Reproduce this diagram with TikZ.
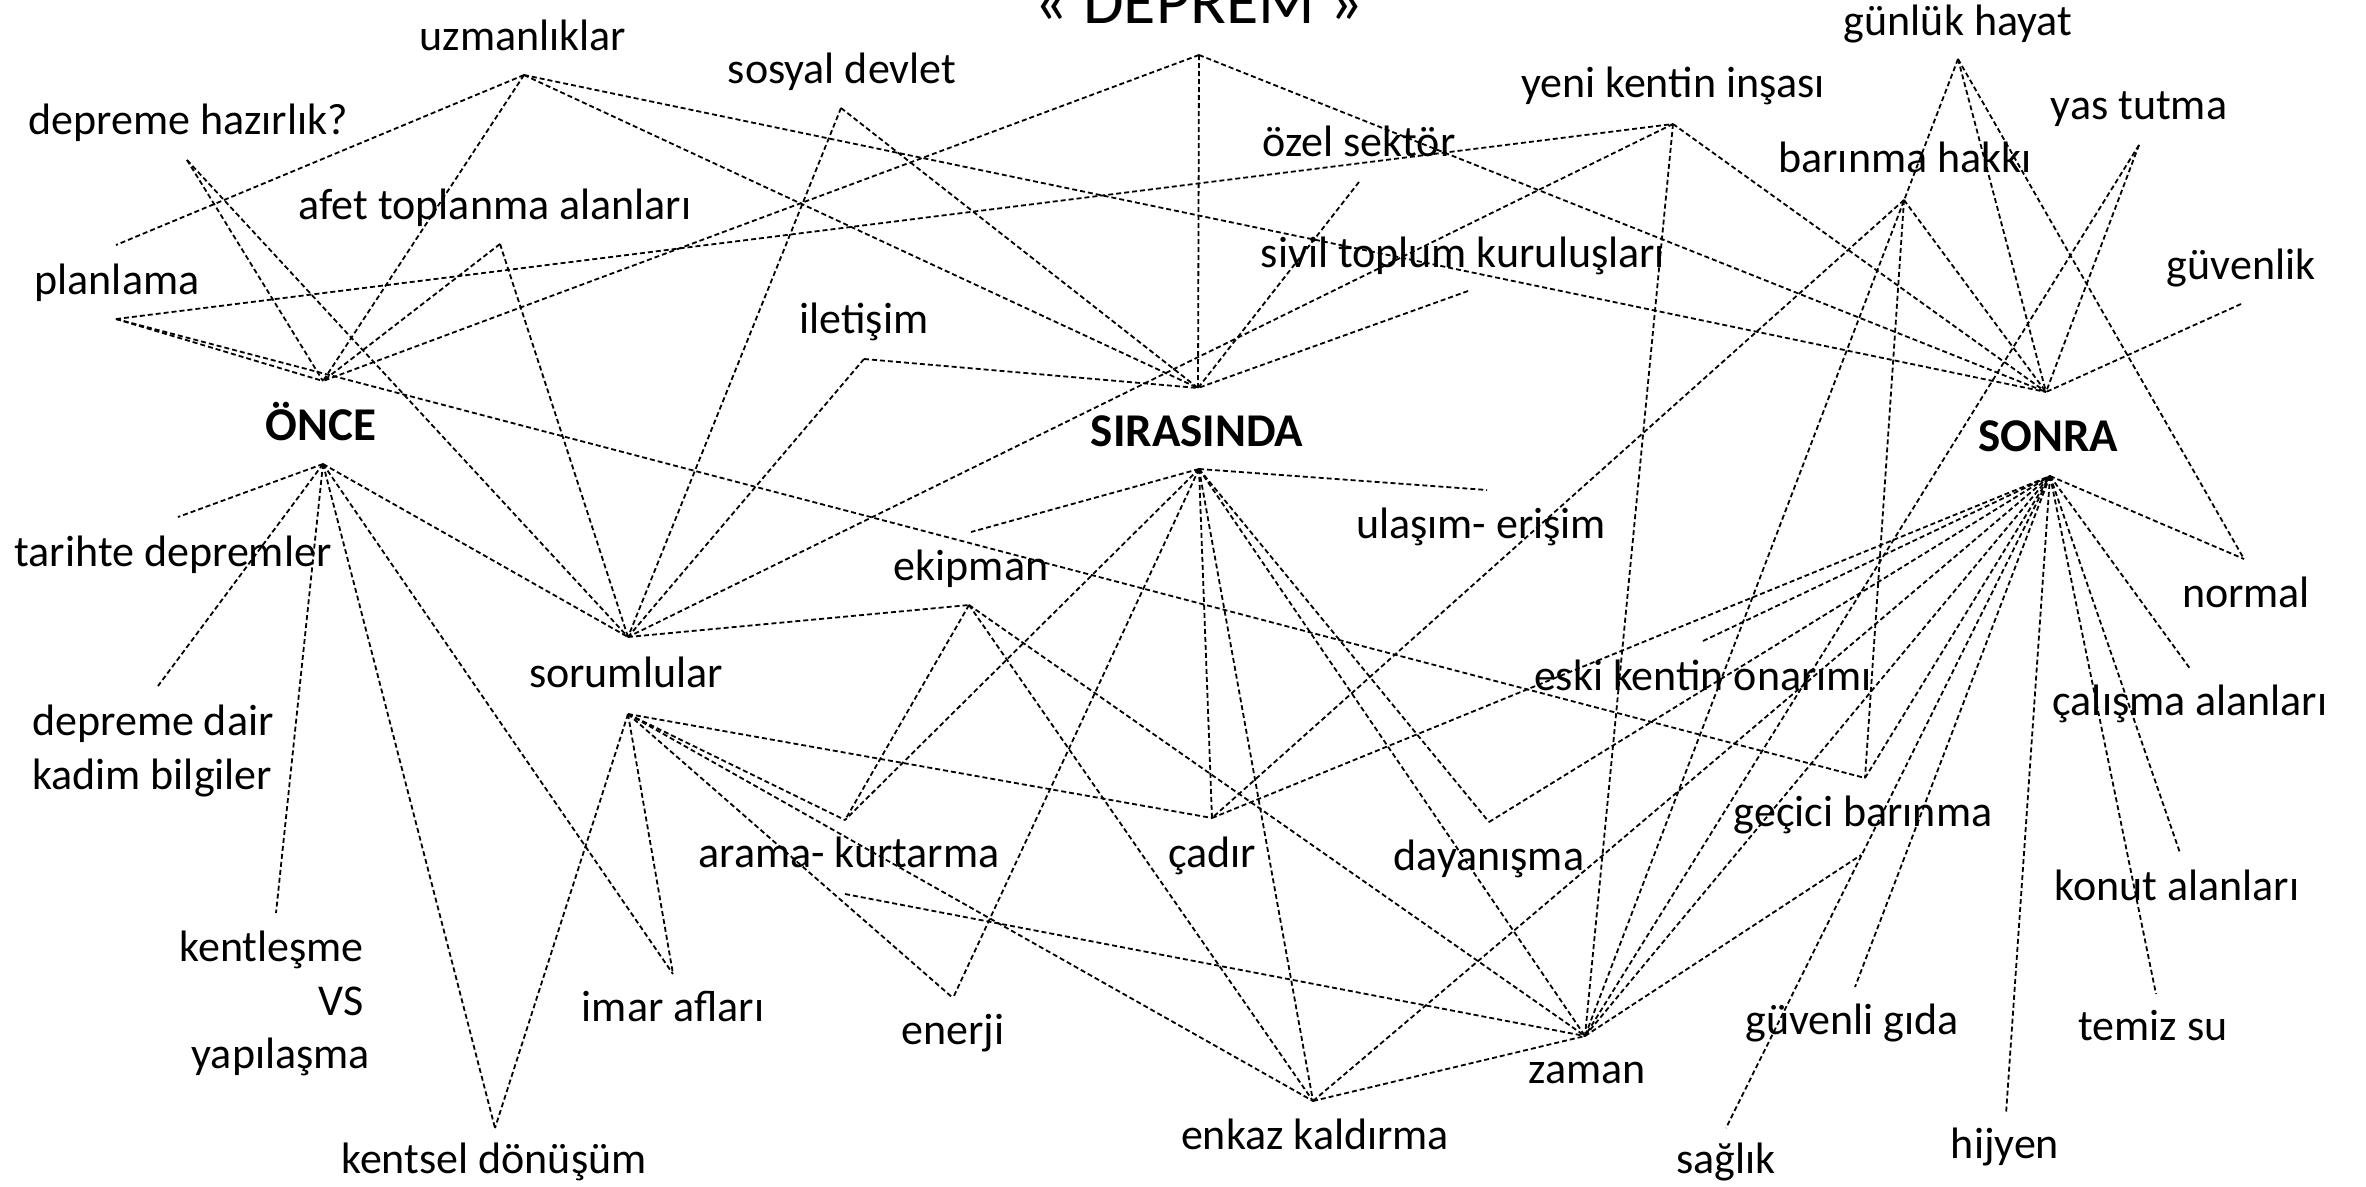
\documentclass[tikz,border=0pt]{standalone}
\usepackage{fontspec}
\setmainfont{Carlito}
\begin{document}
\begin{tikzpicture}[x=1pt,y=-1pt,
  lbl/.style={font=\fontsize{44}{55}\selectfont, inner sep=0pt, anchor=base},
  hdr/.style={font=\fontsize{47}{55}\selectfont\bfseries, inner sep=0pt, anchor=base},
  ttl/.style={font=\fontsize{66}{70}\selectfont, inner sep=0pt, anchor=base},
  link/.style={dash pattern=on 5pt off 3pt, line width=1.8pt, black}]
\useasboundingbox (0,0) rectangle (2366,1186);
\clip (0,0) rectangle (2366,1186);
\fill[white] (0,0) rectangle (2366,1186);

% ---- texts ----
\node[ttl] (title) at (1199,23) {« DEPREM »};
\node[lbl] (tuzm) at (523,50) {uzmanlıklar};
\node[lbl] (thaz) at (188,134) {depreme hazırlık?};
\node[lbl] (tsos) at (842,83) {sosyal devlet};
\node[lbl] (tafet) at (495,219) {afet toplanma alanları};
\node[lbl] (tplan) at (117,294) {planlama};
\node[hdr] (tonce) at (321,440) {ÖNCE};
\node[lbl] (ttarih) at (173,566) {tarihte depremler};
\node[lbl, anchor=base west] (tkadA) at (32,735) {depreme dair};
\node[lbl, anchor=base west] (tkadB) at (32,789) {kadim bilgiler};
\node[lbl, anchor=base east] (tkenA) at (364,961) {kentleşme};
\node[lbl, anchor=base east] (tkenB) at (364,1015) {VS};
\node[lbl, anchor=base east] (tkenC) at (370,1068) {yapılaşma};
\node[lbl] (tkents) at (494,1173) {kentsel dönüşüm};
\node[lbl] (timar) at (673,1021) {imar afları};
\node[lbl] (tsor) at (626,687) {sorumlular};
\node[lbl] (tilet) at (864,333) {iletişim};
\node[hdr] (tsira) at (1197,446) {SIRASINDA};
\node[lbl] (tozel) at (1359,156) {özel sektör};
\node[lbl] (tsivil) at (1463,267) {sivil toplum kuruluşları};
\node[lbl] (tyeni) at (1673,97) {yeni kentin inşası};
\node[lbl] (tekip) at (971,580) {ekipman};
\node[lbl] (tulas) at (1481,538) {ulaşım- erişim};
\node[lbl] (tarama) at (849,867) {arama- kurtarma};
\node[lbl] (tenerji) at (953,1044) {enerji};
\node[lbl] (tcadir) at (1212,867) {çadır};
\node[lbl] (tdayan) at (1489,870) {dayanışma};
\node[lbl] (tenkaz) at (1315,1149) {enkaz kaldırma};
\node[lbl] (tzaman) at (1587,1083) {zaman};
\node[lbl] (teski) at (1703,690) {eski kentin onarımı};
\node[lbl] (tgec) at (1863,826) {geçici barınma};
\node[lbl] (tguvenli) at (1852,1034) {güvenli gıda};
\node[lbl] (tsaglik) at (1726,1173) {sağlık};
\node[lbl] (thijyen) at (2005,1158) {hijyen};
\node[lbl] (ttemiz) at (2153,1040) {temiz su};
\node[lbl] (tkonut) at (2177,900) {konut alanları};
\node[lbl] (tcalis) at (2190,715) {çalışma alanları};
\node[lbl] (tnormal) at (2246,607) {normal};
\node[hdr] (tsonra) at (2048,451) {SONRA};
\node[lbl] (tgunluk) at (1958,35) {günlük hayat};
\node[lbl] (tyas) at (2139,119) {yas tutma};
\node[lbl] (tbarh) at (1905,172) {barınma hakkı};
\node[lbl] (tguv) at (2241,279) {güvenlik};

% ---- anchor points ----
\coordinate (DEP) at (1199,55);
\coordinate (UZM) at (524,75);
\coordinate (SOS) at (841,108);
\coordinate (YENI) at (1673,124);
\coordinate (OZEL) at (1359,182);
\coordinate (SIVIL) at (1468,291);
\coordinate (ILET) at (864,359);
\coordinate (GUNLUK) at (1958,59);
\coordinate (YAS) at (2139,145);
\coordinate (BARH) at (1904,200);
\coordinate (GUV) at (2241,304);
\coordinate (HAZ) at (187,160);
\coordinate (PLANu) at (116,245);
\coordinate (PLAN) at (116,319);
\coordinate (AFET) at (500,244);
\coordinate (ONCEt) at (323,381);
\coordinate (ONCEb) at (323,464);
\coordinate (SIRAt) at (1198,388);
\coordinate (SIRAb) at (1199,469);
\coordinate (SONRAt) at (2046,392);
\coordinate (SONRAb) at (2050,476);
\coordinate (TARIH) at (178,517);
\coordinate (KADIM) at (158,686);
\coordinate (KENTL) at (276,913);
\coordinate (KENTS) at (495,1128);
\coordinate (IMAR) at (673,974);
\coordinate (SORt) at (628,637);
\coordinate (SORb) at (628,714);
\coordinate (ULAS) at (1487,490);
\coordinate (EKIPu) at (971,532);
\coordinate (EKIPl) at (969,605);
\coordinate (ARAMA) at (845,820);
\coordinate (ARAMAb) at (845,894);
\coordinate (ENERJI) at (953,998);
\coordinate (CADIR) at (1212,818);
\coordinate (DAYAN) at (1489,822);
\coordinate (ENKAZ) at (1313,1101);
\coordinate (ZAMAN) at (1585,1036);
\coordinate (ESKI) at (1703,641);
\coordinate (GECu) at (1865,778);
\coordinate (GECl) at (1861,855);
\coordinate (GUVENLI) at (1855,987);
\coordinate (SAGLIK) at (1726,1128);
\coordinate (HIJYEN) at (2006,1114);
\coordinate (TEMIZ) at (2156,994);
\coordinate (KONUT) at (2180,853);
\coordinate (CALIS) at (2191,670);
\coordinate (NORMAL) at (2244,559);

% ---- connectors ----
\foreach \a/\b in {
  UZM/PLANu, UZM/ONCEt, UZM/SIRAt, UZM/SONRAt,
  HAZ/ONCEt, HAZ/SORt,
  PLAN/YENI, PLAN/ONCEt, PLAN/GECu,
  AFET/ONCEt, AFET/SORt,
  DEP/ONCEt, DEP/SIRAt, DEP/SONRAt,
  SOS/SIRAt, SOS/SORt,
  ILET/SIRAt, ILET/SORt,
  OZEL/SIRAt, SIVIL/SIRAt,
  YENI/SORt, YENI/ZAMAN, YENI/SONRAt,
  GUNLUK/ZAMAN, GUNLUK/SONRAt, GUNLUK/NORMAL,
  YAS/SONRAt, YAS/ZAMAN,
  BARH/SONRAt, BARH/CADIR, BARH/GECu,
  GUV/SONRAt,
  ONCEb/TARIH, ONCEb/KADIM, ONCEb/KENTL, ONCEb/KENTS, ONCEb/IMAR, ONCEb/SORt,
  SORb/KENTS, SORb/IMAR, SORb/CADIR, SORb/ARAMA, SORb/ENKAZ, SORb/ENERJI,
  SORt/EKIPl,
  SIRAb/ULAS, SIRAb/EKIPu, SIRAb/ARAMA, SIRAb/ENERJI, SIRAb/CADIR,
  SIRAb/ENKAZ, SIRAb/DAYAN, SIRAb/ZAMAN,
  EKIPl/ARAMA, EKIPl/ENKAZ, EKIPl/ZAMAN,
  ARAMAb/ZAMAN,
  ENKAZ/ZAMAN, ENKAZ/SONRAb,
  CADIR/SONRAb, DAYAN/SONRAb, ZAMAN/SONRAb, ZAMAN/GECl,
  ESKI/SONRAb, GECu/SONRAb,
  SONRAb/SAGLIK, SONRAb/GUVENLI, SONRAb/HIJYEN, SONRAb/TEMIZ,
  SONRAb/KONUT, SONRAb/CALIS, SONRAb/NORMAL}
  \draw[link] (\a) -- (\b);
\end{tikzpicture}
\end{document}
